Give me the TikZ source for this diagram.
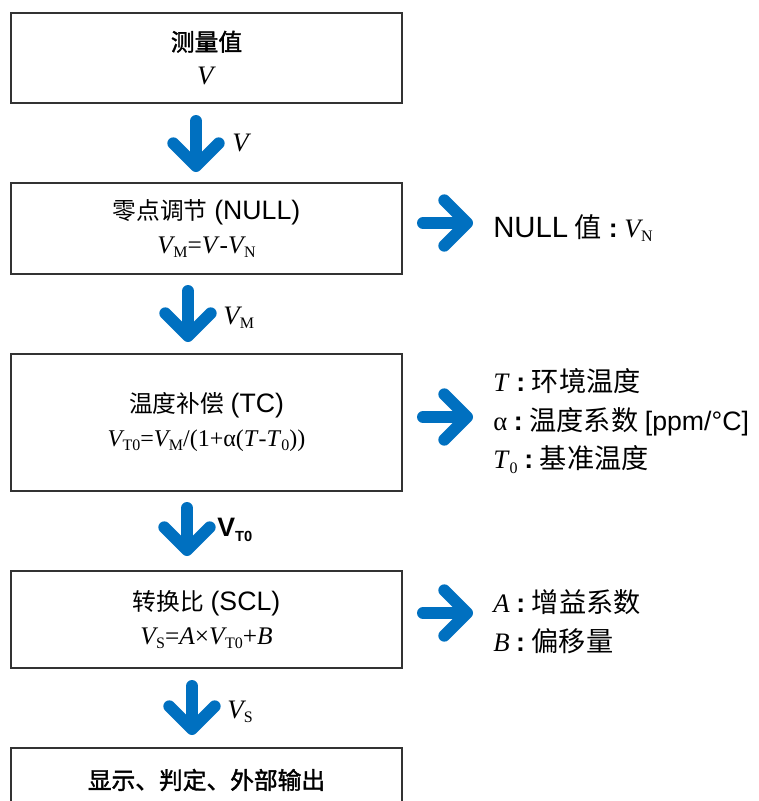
\documentclass[tikz,border=0pt]{standalone}
\usepackage{fontspec}
\setmainfont{Liberation Serif}
\newfontfamily\cjk[Scale=0.89]{Noto Sans CJK SC}
\newfontfamily\cjkb[Scale=0.89, FakeBold=1.6]{Noto Sans CJK SC}
\newfontfamily\cjkn[Scale=1.02]{Noto Sans CJK SC}
\newfontfamily\arial{Liberation Sans}
\usetikzlibrary{arrows.meta}
\definecolor{flowblue}{HTML}{0070C0}
\newcommand{\subs}[1]{\raisebox{-0.35ex}{\fontsize{12}{12}\selectfont #1}}
\newcommand{\vv}[1]{\textit{V}\kern-0.08em\subs{#1}}
\newcommand{\sep}{\hspace{5pt}{\arial\bfseries :}\hspace{5pt}}

\begin{document}
\begin{tikzpicture}[
    x=0.75pt, y=-0.75pt,
    box/.style={draw=black!80, line width=1.1pt, minimum width=293.25pt,
        align=center, inner sep=0pt, font=\fontsize{20}{25.5}\selectfont},
    formula/.style={font=\fontsize{18}{18}\selectfont},
    flow/.style={draw=flowblue, line width=9pt, line cap=round,
        -{Straight Barb[round, length=17pt, width=34pt]}},
    note/.style={anchor=west, align=left, inner sep=0pt,
        font=\fontsize{20}{29}\selectfont},
    tag/.style={anchor=west, inner sep=0pt, font=\fontsize{20}{24}\selectfont}
]
\useasboundingbox (0,0) rectangle (759,801);
\clip (0,0) rectangle (759,801);

% boxes
\node[box, minimum height=67.5pt] (meas) at (206.5,58)
    {{\cjkb 测量值}\\\textit{V}};
\node[box, minimum height=68.25pt] (null) at (206.5,228.5)
    {{\cjk 零点调节} {\arial (NULL)}\\
     {\fontsize{19}{19}\selectfont\vv{M}=\textit{V}-\vv{N}}};
\node[box, minimum height=102.75pt] (tc) at (206.5,422.5)
    {{\cjk 温度补偿} {\arial (TC)}\\
     {\fontsize{18}{18}\selectfont\vv{T0}=\vv{M}/(1+α(\textit{T}-\textit{T}\subs{0}))}};
\node[box, minimum height=72.75pt] (scl) at (206.5,619.5)
    {{\cjk 转换比} {\arial (SCL)}\\
     {\fontsize{19}{19}\selectfont\vv{S}=\textit{A}×\vv{T0}+\textit{B}}};
\node[box, minimum height=48pt] (out) at (206.5,780)
    {{\cjkb 显示、判定、外部输出}};

% down arrows
\coordinate (d1s) at (196,121); \coordinate (d1e) at (196,172);
\coordinate (d2s) at (188,291); \coordinate (d2e) at (188,342);
\coordinate (d3s) at (187,508); \coordinate (d3e) at (187,556);
\coordinate (d4s) at (192,686); \coordinate (d4e) at (192,735);
\draw[flow] (d1s) -- (d1e);
\draw[flow] (d2s) -- (d2e);
\draw[flow] (d3s) -- (d3e);
\draw[flow] (d4s) -- (d4e);

\node[tag] (lv) at (232,143) {\textit{V}};
\node[tag] (lvm) at (223,318) {\vv{M}};
\node[tag] (lvt) at (217,530) {\arial\bfseries V\raisebox{-0.35ex}{\fontsize{11}{11}\selectfont T0}};
\node[tag] (lvs) at (227,712) {\vv{S}};

% side arrows
\coordinate (r1s) at (423,223); \coordinate (r1e) at (473,223);
\coordinate (r2s) at (423,417); \coordinate (r2e) at (473,417);
\coordinate (r3s) at (423,613); \coordinate (r3e) at (473,613);
\draw[flow] (r1s) -- (r1e);
\draw[flow] (r2s) -- (r2e);
\draw[flow] (r3s) -- (r3e);

\node[note] (nnull) at (493,228)
    {{\arial\fontsize{22}{24}\selectfont NULL} {\cjkn 值}\sep\vv{N}};
\node[note] (ntc) at (493,421)
    {\textit{T}\sep{\cjkn 环境温度}\\
     α\sep{\cjkn 温度系数} {\arial [ppm/°C]}\\
     \textit{T}\subs{0}\sep{\cjkn 基准温度}};
\node[note] (nscl) at (493,622)
    {\textit{A}\sep{\cjkn 增益系数}\\
     \textit{B}\sep{\cjkn 偏移量}};
\end{tikzpicture}
\end{document}
